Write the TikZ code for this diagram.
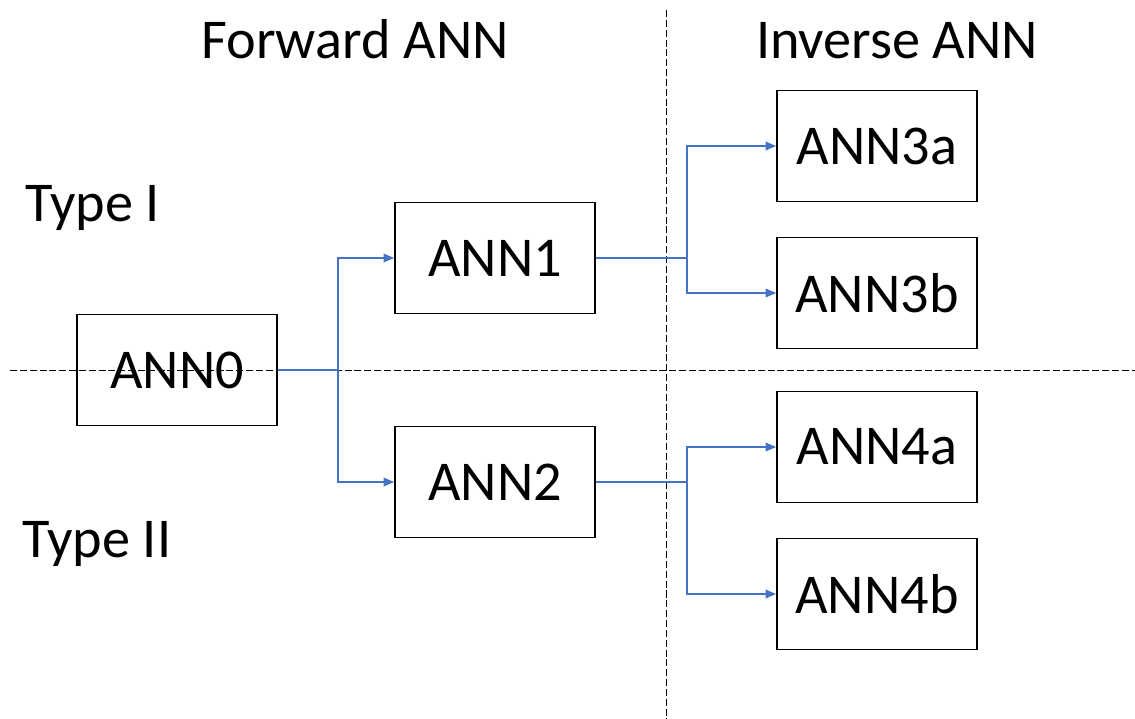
\documentclass[tikz,border=0pt]{standalone}
\usepackage{fontspec}
\setmainfont{Carlito}
\usepackage{tikz}
\usetikzlibrary{arrows.meta,positioning}
\usepackage{xcolor}
\definecolor{annblue}{RGB}{68,114,196}
\tikzstyle{box} = [draw=black, line width=1.1pt, minimum width=4cm, minimum height=2.22cm, inner sep=0pt, font=\fontsize{32}{38}\selectfont]
\tikzstyle{label} = [inner sep=0pt, font=\fontsize{32}{38}\selectfont]
\tikzstyle{arrow} = [line width=0.6pt, color=annblue, -{Triangle[length=6pt,width=5pt]}]
\tikzstyle{split} = [line width=0.6pt, color=annblue]
\tikzstyle{divider} = [line width=0.5pt, dash pattern=on 4pt off 1.6pt]

\begin{document}
\begin{tikzpicture}[x=0.02cm, y=-0.02cm]
\useasboundingbox (0,0) rectangle (1135,719);

% Dividers
\draw[divider] (10,370) -- (1135,370);
\draw[divider] (666,10) -- (666,719);

% Headings
\node[label, anchor=base] (fwd) at (355,59) {Forward ANN};
\node[label, anchor=base] (inv) at (897,59) {Inverse ANN};
\node[label, anchor=base west] (type1) at (25,222) {Type I};
\node[label, anchor=base west] (type2) at (22,557) {Type II};

% Boxes
\node[box] (ann0) at (177,370) {ANN0};
\node[box] (ann1) at (495,258) {ANN1};
\node[box] (ann2) at (495,482) {ANN2};
\node[box] (ann3a) at (877,146) {ANN3a};
\node[box] (ann3b) at (877,293) {ANN3b};
\node[box] (ann4a) at (877,447) {ANN4a};
\node[box] (ann4b) at (877,594) {ANN4b};

% Connectors
\coordinate (s0) at (338,370);
\coordinate (s1) at (687,258);
\coordinate (s2) at (687,482);
\draw[split] (ann0.east) -- (s0);
\draw[arrow] (s0) |- (ann1.west);
\draw[arrow] (s0) |- (ann2.west);
\draw[split] (ann1.east) -- (s1);
\draw[arrow] (s1) |- (ann3a.west);
\draw[arrow] (s1) |- (ann3b.west);
\draw[split] (ann2.east) -- (s2);
\draw[arrow] (s2) |- (ann4a.west);
\draw[arrow] (s2) |- (ann4b.west);
\end{tikzpicture}
\end{document}
